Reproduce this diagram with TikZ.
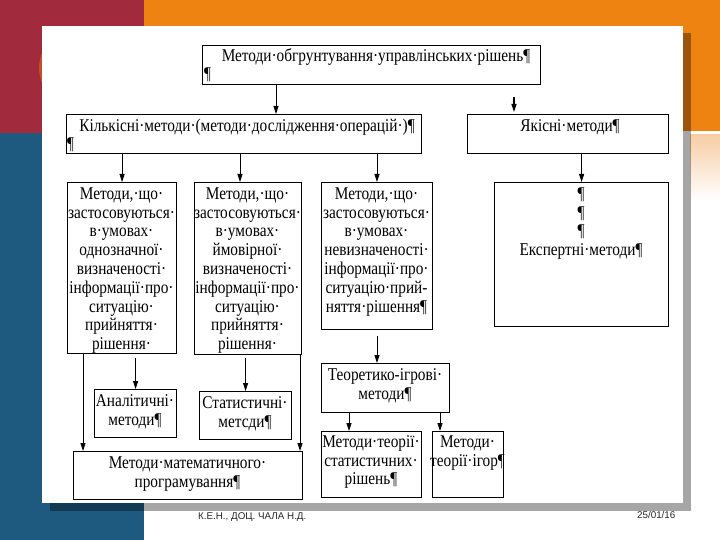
\documentclass[tikz,border=0pt]{standalone}
\usepackage{fontspec}
\setmainfont[FakeStretch=0.85]{Liberation Serif}
\newfontfamily\footfont{Liberation Sans}
\usetikzlibrary{arrows.meta,calc}
\definecolor{slred}{RGB}{161,42,60}
\definecolor{slorange}{RGB}{239,131,17}
\definecolor{slblue}{RGB}{30,90,128}
\definecolor{slcircle}{RGB}{196,78,44}
\definecolor{slfade}{RGB}{247,205,165}
\tikzset{
  bx/.style={draw=black, line width=1.1pt, inner sep=0pt, anchor=north west},
  txt/.style={inner sep=0pt, align=center, font=\fontsize{18}{18.8}\selectfont},
  arr/.style={line width=0.8pt, -{Triangle[length=8pt,width=5pt]}},
  foot/.style={inner sep=0pt, anchor=base west, text=black!85, font=\footfont\fontsize{9.8}{12}\selectfont}
}
\begin{document}
\begin{tikzpicture}[x=1pt,y=-1pt]
\useasboundingbox (0,0) rectangle (720,540);
% slide background
\fill[white] (0,0) rectangle (720,540);
\fill[slred] (0,0) rectangle (144,133);
\fill[slorange] (144,0) rectangle (720,131);
\fill[slblue] (0,133) rectangle (144,540);
\shade[top color=slfade, bottom color=white] (690,135) rectangle (720,200);
\fill[slcircle] (78,68) circle (39);
% picture shadow and panel
\fill[black, opacity=0.35] (50,33) rectangle (691,511);
\fill[white] (42,26) rectangle (683,503);
% footer
\node[foot] (ft1) at (198,519) {К.Е.Н., ДОЦ. ЧАЛА Н.Д.};
\node[foot] (ft2) at (637,518) {25/01/16};
% boxes
\node[bx, minimum width=338pt, minimum height=39pt] (top) at (202,45) {};
\node[bx, minimum width=355pt, minimum height=39pt] (kil) at (66,114) {};
\node[bx, minimum width=201pt, minimum height=39pt] (yak) at (467,114) {};
\node[bx, minimum width=109pt, minimum height=171pt] (A) at (67,182) {};
\node[bx, minimum width=107pt, minimum height=172pt] (B) at (194,182) {};
\node[bx, minimum width=111pt, minimum height=147pt] (C) at (321,182) {};
\node[bx, minimum width=174pt, minimum height=144pt] (exp) at (494,182) {};
\node[bx, minimum width=82pt, minimum height=48pt] (an) at (94,389) {};
\node[bx, minimum width=92pt, minimum height=48pt] (st) at (199,391) {};
\node[bx, minimum width=229pt, minimum height=48pt] (math) at (73,451) {};
\node[bx, minimum width=128pt, minimum height=49pt] (teo) at (321,363) {};
\node[bx, minimum width=100pt, minimum height=66pt] (sr) at (321,431) {};
\node[bx, minimum width=71pt, minimum height=66pt] (ig) at (432,431) {};
% texts
\node[txt, anchor=base] (topt) at (376,62) {Методи·обгрунтування·управлінських·рішень¶};
\node[txt, anchor=base west] (topp) at (204,80) {¶};
\node[txt, anchor=base] (kilt) at (247,132) {Кількісні·методи·(методи·дослідження·операцій·)¶};
\node[txt, anchor=base west] (kilp) at (67,150) {¶};
\node[txt, anchor=base] (yakt) at (570,132) {Якісні·методи¶};
\node[txt, anchor=north] (At) at (121.5,185.84) {\strut Методи,·що·\\застосовуються·\\в·умовах·\\однозначної·\\визначеності·\\інформації·про·\\ситуацію·\\прийняття·\\рішення·};
\node[txt, anchor=north] (Bt) at (247.5,185.84) {\strut Методи,·що·\\застосовуються·\\в·умовах·\\ймовірної·\\визначеності·\\інформації·про·\\ситуацію·\\прийняття·\\рішення·};
\node[txt, anchor=north] (Ct) at (376.5,185.84) {\strut Методи,·що·\\застосовуються·\\в·умовах·\\невизначеності·\\інформації·про·\\ситуацію·прий-\\няття·рішення¶};
\node[txt, anchor=north] (expt) at (581,185.84) {\strut ¶\\¶\\¶\\Експертні·методи¶};
\node[txt, anchor=north] (ant) at (135,392.84) {\strut Аналітичні·\\методи¶};
\node[txt, anchor=north] (stt) at (245,394.84) {\strut Статистичні·\\метсди¶};
\node[txt, anchor=north] (matht) at (187.5,454.84) {\strut Методи·математичного·\\програмування¶};
\node[txt, anchor=north] (teot) at (385,366.84) {\strut Теоретико-ігрові·\\методи¶};
\node[txt, anchor=north] (srt) at (371,433.84) {\strut Методи·теорії·\\статистичних·\\рішень¶};
\node[txt, anchor=north] (igt) at (467.5,433.84) {\strut Методи·\\теорії·ігор¶};
% connector x positions
\coordinate (xa) at (276,0);
\coordinate (dang) at (514,97);
\coordinate (xb) at (240,0);
\coordinate (xc) at (377,0);
\coordinate (xm1) at (83,0);
\coordinate (xm2) at (300,0);
\coordinate (xs1) at (349,0);
\coordinate (xs2) at (440,0);
% connectors
\draw[arr] (top.south -| xa) -- (kil.north -| xa);
\draw[arr, line width=1.3pt, shorten >=2pt] (dang) -- (yak.north -| dang);
\draw[arr] (kil.south -| A.north) -- (A.north);
\draw[arr] (kil.south -| xb) -- (B.north -| xb);
\draw[arr] (kil.south -| xc) -- (C.north -| xc);
\draw[arr] (yak.south -| exp.north) -- (exp.north);
\draw[arr] ($(A.south -| an.north)+(0,4)$) -- (an.north);
\draw[arr] ($(B.south -| st.north)+(0,3)$) -- (st.north);
\draw[arr] (A.south -| xm1) -- (math.north -| xm1);
\draw[arr] (B.south -| xm2) -- (math.north -| xm2);
\draw[arr] ($(C.south -| xc)+(0,6)$) -- (teo.north -| xc);
\draw[arr] (teo.south -| xs1) -- (sr.north -| xs1);
\draw[arr] (teo.south -| xs2) -- (ig.north -| xs2);
\end{tikzpicture}
\end{document}
